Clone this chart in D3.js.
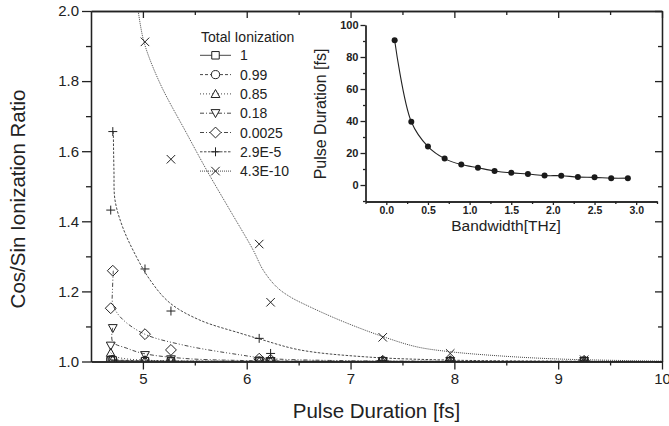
<!DOCTYPE html>
<html>
<head>
<meta charset="utf-8">
<script src="https://cdn.jsdelivr.net/npm/d3@7"></script>
<style>
body { margin: 0; background: #fff; }
text { font-family: "Liberation Sans", Arial, Helvetica, sans-serif; fill: #222; }
.axis path, .axis line { stroke: #222; stroke-width: 1.3; }
</style>
</head>
<body>
<svg id="chart"></svg>
<script>
var width = 669,
    height = 426;

// main plot data: pulse durations and ratio for each total ionization level
var pulse = [4.69, 4.71, 5.02, 5.27, 6.12, 6.23, 7.31, 7.96, 9.25];
var labels = ['1', '0.99', '0.85', '0.18', '0.0025', '2.9E-5', '4.3E-10'];
var ion1     = [1.003, 1.003, 1.001, 1.001, 1.000, 1.000, 1.001, 1.000, 1.001];
var ion099   = [1.005, 1.005, 1.002, 1.001, 1.001, 1.000, 1.001, 1.001, 1.001];
var ion085   = [1.025, 1.006, 1.004, 1.002, 1.001, 1.001, 1.001, 1.001, 1.001];
var ion018   = [1.045, 1.095, 1.018, 1.006, 1.002, 1.001, 1.001, 1.001, 1.001];
var ion0025  = [1.152, 1.259, 1.078, 1.033, 1.008, 1.005, 1.002, 1.001, 1.002];
var ion29e5  = [1.432, 1.656, 1.264, 1.144, 1.066, 1.023, 1.003, 1.002, 1.002];
var ion43e10 = [null, null, 1.912, 1.577, 1.335, 1.169, 1.069, 1.023, 1.005];

// fitted curves as drawn in the figure [pulse, ratio]
var fit1     = [[4.69,1.003],[5.0,1.001],[6.0,1.0],[10,1.0]];
var fit099   = [[4.69,1.005],[5.0,1.002],[6.0,1.0005],[10,1.0]];
var fit085   = [[4.69,1.025],[4.75,1.012],[5.0,1.004],[5.5,1.001],[10,1.0]];
var fit018   = [[4.709,1.096],[4.709,1.056],[4.844,1.038],[5.003,1.023],[5.388,1.009],[5.934,1.003],[6.8,1.001],[10,1.0]];
var fit0025  = [[4.715,1.259],[4.707,1.204],[4.709,1.166],[4.779,1.128],[5.003,1.080],[5.388,1.047],[5.934,1.019],[6.191,1.009],[6.8,1.003],[7.955,1.0005],[10,1.0]];
var fit29e5  = [[4.715,1.656],[4.721,1.546],[4.731,1.461],[4.798,1.389],[4.904,1.318],[5.068,1.233],[5.26,1.167],[5.549,1.118],[5.934,1.081],[6.127,1.064],[6.512,1.033],[7.156,1.013],[7.955,1.004],[9.014,1.001],[10,1.0]];
var fit43e10 = [[4.955,2.0],[5.01,1.912],[5.164,1.794],[5.421,1.651],[5.614,1.546],[5.838,1.432],[6.062,1.318],[6.158,1.261],[6.287,1.213],[6.415,1.185],[6.608,1.156],[6.928,1.114],[7.313,1.071],[7.635,1.042],[7.955,1.028],[8.437,1.016],[9.014,1.007],[10,1.001]];

// inset data
var bandwidth = [0.1, 0.3, 0.5, 0.7, 0.9, 1.1, 1.3, 1.5, 1.7, 1.9, 2.1, 2.3, 2.5, 2.7, 2.9];
var duration  = [90.5, 39.5, 24, 16.5, 12.8, 10.8, 8.8, 7.6, 6.9, 5.9, 5.8, 5.0, 4.8, 4.3, 4.3];

var yTicks = [1.0, 1.2, 1.4, 1.6, 1.8, 2.0],
    xTicks = [5, 6, 7, 8, 9, 10],
    insetXTicks = [0, 0.5, 1, 1.5, 2, 2.5, 3],
    insetYTicks = [0, 20, 40, 60, 80, 100];

var svg = d3.select('#chart')
    .attr('width', width)
    .attr('height', height);

var x = d3.scaleLinear().domain([4.5, 10]).range([91, 662]),
    y = d3.scaleLinear().domain([1, 2]).range([361.5, 11]);

svg.append('defs').append('clipPath').attr('id', 'clip')
  .append('rect')
  .attr('x', x.range()[0]).attr('y', y.range()[1])
  .attr('width', x.range()[1] - x.range()[0])
  .attr('height', y.range()[0] - y.range()[1]);

// custom stroke symbols
var plusSym = { draw: function(c, s) { var r = Math.sqrt(s) / 2; c.moveTo(-r, 0); c.lineTo(r, 0); c.moveTo(0, -r); c.lineTo(0, r); } };
var timesSym = { draw: function(c, s) { var r = Math.sqrt(s) / 2; c.moveTo(-r, -r); c.lineTo(r, r); c.moveTo(-r, r); c.lineTo(r, -r); } };
var triDown = { draw: function(c, s) { var r = Math.sqrt(s) / 2; c.moveTo(-r*1.1, -r*0.9); c.lineTo(r*1.1, -r*0.9); c.lineTo(0, r*1.1); c.closePath(); } };
var triUp = { draw: function(c, s) { var r = Math.sqrt(s) / 2; c.moveTo(-r*1.1, r*0.9); c.lineTo(r*1.1, r*0.9); c.lineTo(0, -r*1.1); c.closePath(); } };
var diamond = { draw: function(c, s) { var r = Math.sqrt(s) / 2 * 1.45; c.moveTo(0, -r); c.lineTo(r, 0); c.lineTo(0, r); c.lineTo(-r, 0); c.closePath(); } };

var series = [
  { vals: ion1,     fit: fit1,     sym: d3.symbolSquare, size: 56, dash: null },
  { vals: ion099,   fit: fit099,   sym: d3.symbolCircle, size: 52, dash: '3,2' },
  { vals: ion085,   fit: fit085,   sym: triUp,           size: 64, dash: '1,2' },
  { vals: ion018,   fit: fit018,   sym: triDown,         size: 64, dash: '4,2,1,2' },
  { vals: ion0025,  fit: fit0025,  sym: diamond,         size: 56, dash: '4,2,1,2,1,2' },
  { vals: ion29e5,  fit: fit29e5,  sym: plusSym,         size: 80, dash: '2.5,1.5' },
  { vals: ion43e10, fit: fit43e10, sym: timesSym,        size: 72, dash: '1,1' }
];

var line = d3.line()
    .x(function(d) { return x(d[0]); })
    .y(function(d) { return y(d[1]); })
    .curve(d3.curveMonotoneX);
var lineCR = d3.line()
    .x(function(d) { return x(d[0]); })
    .y(function(d) { return y(d[1]); })
    .curve(d3.curveCatmullRom.alpha(0.5));

var plot = svg.append('g').attr('clip-path', 'url(#clip)');

series.forEach(function(s, i) {
  plot.append('path')
    .attr('d', (i >= 3 ? lineCR : line)(s.fit))
    .attr('fill', 'none')
    .attr('stroke', '#333')
    .attr('stroke-width', 0.9)
    .attr('stroke-dasharray', s.dash);

  plot.selectAll('.m' + i)
    .data(s.vals.map(function(v, j) { return [pulse[j], v]; }).filter(function(d) { return d[1] !== null; }))
    .enter().append('path')
    .attr('class', 'm' + i)
    .attr('transform', function(d) { return 'translate(' + x(d[0]) + ',' + y(d[1]) + ')'; })
    .attr('d', d3.symbol().type(s.sym).size(s.size))
    .attr('fill', 'none')
    .attr('stroke', '#222')
    .attr('stroke-width', 1);
});

// main axes
svg.append('g').attr('class', 'axis')
  .attr('transform', 'translate(0,' + y(1) + ')')
  .call(d3.axisBottom(x).tickValues(xTicks).tickSize(8).tickSizeOuter(0).tickPadding(4).tickFormat(d3.format('d')))
  .call(function(g) { g.selectAll('text').attr('font-size', 15).attr('font-family', null); });
svg.append('g').attr('class', 'axis')
  .attr('transform', 'translate(0,' + y(1) + ')')
  .call(d3.axisBottom(x).tickValues([5.5, 6.5, 7.5, 8.5, 9.5]).tickSize(4).tickSizeOuter(0).tickFormat(''));
svg.append('g').attr('class', 'axis')
  .attr('transform', 'translate(0,' + y(2) + ')')
  .call(d3.axisTop(x).tickValues(xTicks).tickSize(-7).tickSizeOuter(0).tickFormat(''));
svg.append('g').attr('class', 'axis')
  .attr('transform', 'translate(0,' + y(2) + ')')
  .call(d3.axisTop(x).tickValues([5.5, 6.5, 7.5, 8.5, 9.5]).tickSize(-4).tickSizeOuter(0).tickFormat(''));

svg.append('g').attr('class', 'axis')
  .attr('transform', 'translate(' + x(4.5) + ',0)')
  .call(d3.axisLeft(y).tickValues(yTicks).tickSize(9).tickSizeOuter(0).tickPadding(3).tickFormat(d3.format('.1f')))
  .call(function(g) { g.selectAll('text').attr('font-size', 15).attr('font-family', null); });
svg.append('g').attr('class', 'axis')
  .attr('transform', 'translate(' + x(4.5) + ',0)')
  .call(d3.axisLeft(y).tickValues([1.1, 1.3, 1.5, 1.7, 1.9]).tickSize(5).tickSizeOuter(0).tickFormat(''));
svg.append('g').attr('class', 'axis')
  .attr('transform', 'translate(' + x(10) + ',0)')
  .call(d3.axisRight(y).tickValues(yTicks).tickSize(-7).tickSizeOuter(0).tickFormat(''));
svg.append('g').attr('class', 'axis')
  .attr('transform', 'translate(' + x(10) + ',0)')
  .call(d3.axisRight(y).tickValues([1.1, 1.3, 1.5, 1.7, 1.9]).tickSize(-4).tickSizeOuter(0).tickFormat(''));

// axis titles
svg.append('text')
  .attr('x', (x.range()[0] + x.range()[1]) / 2).attr('y', 418)
  .attr('text-anchor', 'middle').attr('font-size', 20.5)
  .text('Pulse Duration [fs]');
svg.append('text')
  .attr('transform', 'translate(25,199) rotate(-90)')
  .attr('text-anchor', 'middle').attr('font-size', 20.5)
  .text('Cos/Sin Ionization Ratio');

// legend
var legend = svg.append('g').attr('transform', 'translate(200,0)');
legend.append('text').attr('x', 1).attr('y', 42).attr('font-size', 14).text('Total Ionization');
series.forEach(function(s, i) {
  var ly = 55.3 + i * 19.3;
  legend.append('line')
    .attr('x1', 0).attr('x2', 31).attr('y1', ly).attr('y2', ly)
    .attr('stroke', '#333').attr('stroke-width', 0.9)
    .attr('stroke-dasharray', s.dash);
  legend.append('path')
    .attr('transform', 'translate(15.5,' + ly + ')')
    .attr('d', d3.symbol().type(s.sym).size(s.size))
    .attr('fill', '#fff').attr('stroke', '#222').attr('stroke-width', 1);
  legend.append('text')
    .attr('x', 40).attr('y', ly + 5).attr('font-size', 14)
    .text(labels[i]);
});

// inset
var ix = d3.scaleLinear().domain([-0.25, 3.25]).range([365.5, 657]),
    iy = d3.scaleLinear().domain([-10.3, 100]).range([201.5, 25]);

var ig = svg.append('g');
ig.append('path')
  .datum(bandwidth.map(function(b, i) { return [b, duration[i]]; }))
  .attr('d', d3.line().x(function(d) { return ix(d[0]); }).y(function(d) { return iy(d[1]); }).curve(d3.curveCatmullRom.alpha(0.5)))
  .attr('fill', 'none').attr('stroke', '#222').attr('stroke-width', 1.1);
ig.selectAll('circle')
  .data(bandwidth)
  .enter().append('circle')
  .attr('cx', function(d) { return ix(d); })
  .attr('cy', function(d, i) { return iy(duration[i]); })
  .attr('r', 3)
  .attr('fill', '#1a1a1a');

ig.append('g').attr('class', 'axis')
  .attr('transform', 'translate(0,' + iy(-10.3) + ')')
  .call(d3.axisBottom(ix).tickValues(insetXTicks).tickSize(3.5).tickSizeOuter(0).tickPadding(1.5).tickFormat(d3.format('.1f')))
  .call(function(g) { g.selectAll('text').attr('font-size', 10.5).attr('font-weight', 'bold').attr('font-family', null); });
ig.append('g').attr('class', 'axis')
  .attr('transform', 'translate(0,' + iy(-10.3) + ')')
  .call(d3.axisBottom(ix).tickValues([-0.25, 0.25, 0.75, 1.25, 1.75, 2.25, 2.75, 3.25]).tickSize(2.5).tickSizeOuter(0).tickFormat(''));
ig.append('g').attr('class', 'axis')
  .attr('transform', 'translate(' + ix(-0.25) + ',0)')
  .call(d3.axisLeft(iy).tickValues(insetYTicks).tickSize(5).tickSizeOuter(0).tickPadding(2).tickFormat(d3.format('d')))
  .call(function(g) { g.selectAll('text').attr('font-size', 11).attr('font-weight', 'bold').attr('font-family', null); });
ig.append('g').attr('class', 'axis')
  .attr('transform', 'translate(' + ix(-0.25) + ',0)')
  .call(d3.axisLeft(iy).tickValues([-10, 10, 30, 50, 70, 90]).tickSize(2.5).tickSizeOuter(0).tickFormat(''));

ig.append('text')
  .attr('x', 506).attr('y', 231)
  .attr('text-anchor', 'middle').attr('font-size', 15.5)
  .text('Bandwidth[THz]');
ig.append('text')
  .attr('transform', 'translate(326,114) rotate(-90)')
  .attr('text-anchor', 'middle').attr('font-size', 16)
  .text('Pulse Duration [fs]');

svg.selectAll('.axis .domain').attr('stroke-width', 1.4);
</script>
</body>
</html>
